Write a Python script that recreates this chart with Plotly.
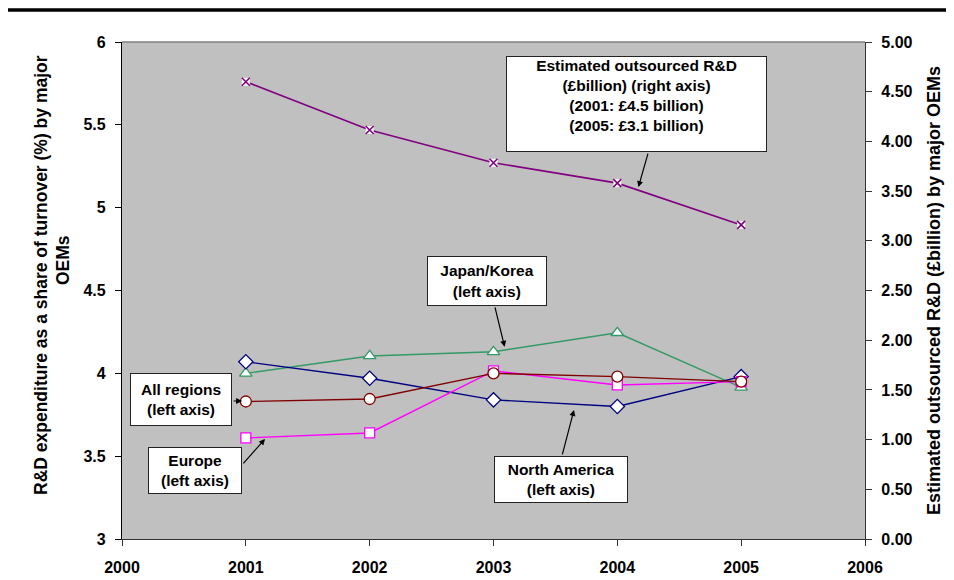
import plotly.graph_objects as go

# Years on the x axis
years = [2001, 2002, 2003, 2004, 2005]

# R&D share of turnover (%) - left axis
all_regions = [3.83, 3.845, 4.00, 3.98, 3.95]
europe = [3.61, 3.64, 4.015, 3.93, 3.95]
north_america = [4.07, 3.97, 3.84, 3.80, 3.98]
japan_korea = [4.00, 4.105, 4.13, 4.245, 3.915]

# Estimated outsourced R&D (£billion) - right axis
outsourced = [4.60, 4.115, 3.785, 3.58, 3.16]

FONT = "Liberation Sans"

# the page body adds an 8px margin, so page pixels are shifted by OFF
OFF = 8
# plot area in page pixels, used to place boxes and titles
L, R, T, B = 122, 865, 42, 539


def px_x(p):
    return (p - L) / (R - L)


def px_y(p):
    return (B - p) / (B - T)


fig = go.Figure()

fig.add_trace(go.Scatter(x=years, y=japan_korea, mode="lines+markers", name="Japan/Korea",
                         line=dict(color="#339966", width=1.4),
                         marker=dict(symbol="triangle-up", size=11, color="white",
                                     line=dict(color="#339966", width=1.3))))
fig.add_trace(go.Scatter(x=years, y=north_america, mode="lines+markers", name="North America",
                         line=dict(color="#000080", width=1.4),
                         marker=dict(symbol="diamond", size=11, color="white",
                                     line=dict(color="#000080", width=1.3))))
fig.add_trace(go.Scatter(x=years, y=europe, mode="lines+markers", name="Europe",
                         line=dict(color="#FF00FF", width=1.4),
                         marker=dict(symbol="square", size=10, color="white",
                                     line=dict(color="#FF00FF", width=1.3))))
fig.add_trace(go.Scatter(x=years, y=all_regions, mode="lines+markers", name="All regions",
                         line=dict(color="#800000", width=1.4),
                         marker=dict(symbol="circle", size=11, color="white",
                                     line=dict(color="#800000", width=1.3))))

# outsourced R&D: line, white square background, purple cross
fig.add_trace(go.Scatter(x=years, y=outsourced, mode="lines", yaxis="y2",
                         line=dict(color="#800080", width=1.6)))
fig.add_trace(go.Scatter(x=years, y=outsourced, mode="markers", yaxis="y2",
                         marker=dict(symbol="square", size=8, color="white", line=dict(width=0))))
fig.add_trace(go.Scatter(x=years, y=outsourced, mode="markers", yaxis="y2",
                         marker=dict(symbol="x-thin", size=8, color="#800080",
                                     line=dict(color="#800080", width=1.6))))

tick_font = dict(family=FONT, size=16, color="black", weight="bold")
box_font = dict(family=FONT, size=15.5, color="black", weight="bold")

# text boxes: (text, left, top, right, bottom) in page pixels
boxes = [
    ("Estimated outsourced R&D<br>(£billion) (right axis)<br>(2001: £4.5 billion)<br>(2005: £3.1 billion)",
     506, 56, 767, 152),
    ("Japan/Korea<br>(left axis)", 427, 256, 547, 306),
    ("All regions<br>(left axis)", 130, 373, 232, 426),
    ("Europe<br>(left axis)", 148, 447, 242, 494),
    ("North America<br>(left axis)", 494, 456, 628, 503),
]
annotations = []
for text, x0, y0, x1, y1 in boxes:
    annotations.append(dict(
        text=text, xref="paper", yref="paper",
        x=px_x((x0 + x1) / 2), y=px_y(y0), xanchor="center", yanchor="top",
        width=x1 - x0 - 2, height=y1 - y0 - 2, valign="top" if len(text) > 60 else "middle",
        showarrow=False, bgcolor="white", bordercolor="#222222", borderwidth=1, borderpad=0,
        font=box_font))

# arrows: (x, y, axis, ax, ay)
arrows = [
    (2004.17, 3.54, "y2", 10, -35),
    (2003.09, 4.16, "y", -10, -41),
    (2000.97, 3.833, "y", -10, 0),
    (2001.155, 3.604, "y", -23, 26),
    (2003.65, 3.779, "y", -12, 46),
]
for x, y, yref, ax, ay in arrows:
    annotations.append(dict(
        text="", x=x, y=y, xref="x", yref=yref, ax=ax, ay=ay,
        showarrow=True, arrowhead=2, arrowsize=1, arrowwidth=1.2, arrowcolor="black"))

title_font = dict(family=FONT, size=17.5, color="black", weight="bold")
annotations += [
    dict(text="R&D expenditure as a share of turnover (%) by major", textangle=-90,
         xref="paper", yref="paper", x=px_x(41), y=px_y(275), xanchor="center", yanchor="middle",
         showarrow=False, font=title_font),
    dict(text="OEMs", textangle=-90,
         xref="paper", yref="paper", x=px_x(63), y=px_y(260), xanchor="center", yanchor="middle",
         showarrow=False, font=title_font),
    dict(text="Estimated outsourced R&D (£billion) by major OEMs", textangle=-90,
         xref="paper", yref="paper", x=px_x(934), y=px_y(290), xanchor="center", yanchor="middle",
         showarrow=False, font=dict(family=FONT, size=18, color="black", weight="bold")),
]

fig.update_layout(
    width=954, height=580,
    margin=dict(l=L - OFF, r=954 - R + OFF, t=T - OFF, b=580 - B + OFF),
    paper_bgcolor="white", plot_bgcolor="#C0C0C0",
    showlegend=False,
    font=dict(family=FONT),
    xaxis=dict(range=[2000, 2006], dtick=1, tick0=2000, showgrid=False, zeroline=False,
               showline=True, linecolor="#333333", linewidth=1.2,
               ticks="outside", ticklen=6, tickcolor="#333333",
               tickfont=tick_font, ticklabelstandoff=8),
    yaxis=dict(range=[3, 6], dtick=0.5, showgrid=False, zeroline=False,
               showline=True, linecolor="black", linewidth=1.2,
               ticks="outside", ticklen=6, tickcolor="black",
               tickfont=tick_font, ticklabelstandoff=6),
    yaxis2=dict(range=[0, 5], dtick=0.5, tickformat=".2f", overlaying="y", side="right",
                showgrid=False, zeroline=False,
                showline=True, linecolor="#333333", linewidth=1.2,
                ticks="outside", ticklen=6, tickcolor="#333333",
                tickfont=tick_font, ticklabelstandoff=6),
    annotations=annotations,
    shapes=[
        dict(type="line", xref="paper", yref="paper", x0=0, x1=1, y0=1, y1=1,
             line=dict(color="#808080", width=1.5)),
        # thick rule across the top of the page
        dict(type="line", xref="paper", yref="paper", x0=px_x(0), x1=px_x(962),
             y0=px_y(OFF + 2), y1=px_y(OFF + 2),
             line=dict(color="black", width=3.5)),
    ],
)

fig.write_html("out.html")
